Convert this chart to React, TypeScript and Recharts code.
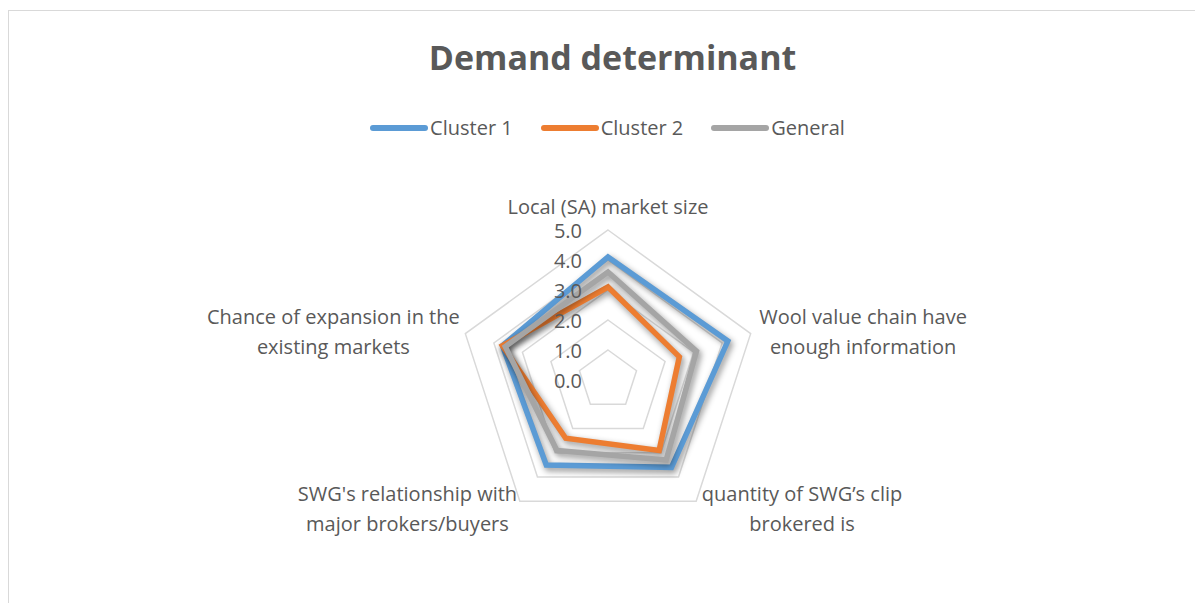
import React from "react";
import { RadarChart, Radar, PolarGrid, PolarAngleAxis, PolarRadiusAxis, Legend } from "recharts";

const categories = [
  "Local (SA) market size",
  "Wool value chain have enough information",
  "quantity of SWG’s clip brokered is",
  "SWG's relationship with major brokers/buyers",
  "Chance of expansion in the existing markets",
];

const labelLines = [
  ["Local (SA) market size"],
  ["Wool value chain have", "enough information"],
  ["quantity of SWG’s clip", "brokered is"],
  ["SWG's relationship with", "major brokers/buyers"],
  ["Chance of expansion in the", "existing markets"],
];

const cluster1 = [4.1, 4.2, 3.6, 3.5, 3.7];
const cluster2 = [3.1, 2.5, 2.9, 2.4, 3.7];
const general = [3.6, 3.1, 3.3, 2.9, 3.6];

const seriesNames = ["Cluster 1", "Cluster 2", "General"];
const seriesKeys = ["c1", "c2", "gen"];
const seriesColors = ["#5b9bd5", "#ed7d31", "#a5a5a5"];

const radiusTicks = [0, 1, 2, 3, 4, 5];

const data = categories.map((c, i) => ({
  axis: c,
  c1: cluster1[i],
  c2: cluster2[i],
  gen: general[i],
}));

const FONT = '"Open Sans", sans-serif';
const TEXT = "#595959";

let ctx: CanvasRenderingContext2D | null = null;
function measure(s: string): number {
  if (typeof document !== "undefined" && !ctx) {
    ctx = document.createElement("canvas").getContext("2d");
  }
  if (!ctx) return s.length * 10;
  ctx.font = '20px "Open Sans"';
  return ctx.measureText(s).width;
}

const AngleTick = (props: any) => {
  const { x, y, payload, textAnchor } = props;
  const idx = categories.indexOf(payload.value);
  const lines = labelLines[idx] || [String(payload.value)];
  const w = Math.max(...lines.map(measure));
  let centerX = x;
  if (textAnchor === "start") centerX = x + w / 2 + 1;
  else if (textAnchor === "end") centerX = x - w / 2 + 2;
  const lh = 30;
  const n = lines.length;
  let firstY: number;
  if (textAnchor === "middle" && y < 300) firstY = y - 15 - (n - 1) * lh;
  else firstY = y - ((n - 1) * lh) / 2 + 1;
  return (
    <text textAnchor="middle" fontSize={20} fontFamily={FONT} fill={TEXT}>
      {lines.map((l: string, i: number) => (
        <tspan key={i} x={centerX} y={firstY + i * lh} dy="0.35em">
          {l}
        </tspan>
      ))}
    </text>
  );
};

const RadiusTick = (props: any) => {
  const { x, y, payload } = props;
  return (
    <text x={x - 26} y={y} dy="0.38em" textAnchor="end" fontSize={20} fontFamily={FONT} fill={TEXT}>
      {Number(payload.value).toFixed(1)}
    </text>
  );
};

const renderLegend = () => (
  <div style={{ display: "flex", justifyContent: "center", alignItems: "center", fontFamily: FONT, fontSize: 20, color: TEXT, paddingLeft: 2 }}>
    {seriesNames.map((name, i) => (
      <div key={name} style={{ display: "flex", alignItems: "center", marginRight: i < seriesNames.length - 1 ? 28 : 0 }}>
        <div style={{ width: 58, height: 6, borderRadius: 3, background: seriesColors[i], marginRight: 2 }} />
        <span>{name}</span>
      </div>
    ))}
  </div>
);

export default function App() {
  return (
    <div style={{ paddingTop: 2 }}>
      <style>{`body{overflow:hidden} .shadowed path { filter: drop-shadow(2px 3px 3px rgba(0,0,0,0.45)); }`}</style>
      <div style={{ position: "relative", width: 1195, height: 600, border: "1px solid #d9d9d9", background: "#fff" }}>
        <div
          style={{
            position: "absolute",
            top: 26,
            left: 6,
            width: 1195,
            textAlign: "center",
            fontFamily: FONT,
            fontWeight: 700,
            fontSize: 34,
            color: TEXT,
            lineHeight: "40px",
          }}
        >
          Demand determinant
        </div>
        <RadarChart
          width={1195}
          height={598}
          data={data}
          cx={599}
          cy={369}
          outerRadius={150}
          margin={{ top: 0, right: 0, bottom: 0, left: 0 }}
        >
          <PolarGrid gridType="polygon" radialLines={false} stroke="#d9d9d9" strokeWidth={1.5} />
          <PolarAngleAxis dataKey="axis" tick={<AngleTick />} tickLine={false} axisLine={false} />
          <PolarRadiusAxis
            angle={90}
            domain={[0, 5]}
            ticks={radiusTicks as any}
            tickCount={6}
            tick={<RadiusTick />}
            axisLine={false}
            tickLine={false}
          />
          {seriesKeys.map((k, i) => (
            <Radar
              key={k}
              name={seriesNames[i]}
              dataKey={k}
              stroke={seriesColors[i]}
              strokeWidth={5.5}
              fill="none"
              fillOpacity={0}
              className="shadowed"
              isAnimationActive={false}
            />
          ))}
          <Legend content={renderLegend} verticalAlign="top" wrapperStyle={{ top: 103, left: 0, width: 1195 }} />
        </RadarChart>
      </div>
    </div>
  );
}
